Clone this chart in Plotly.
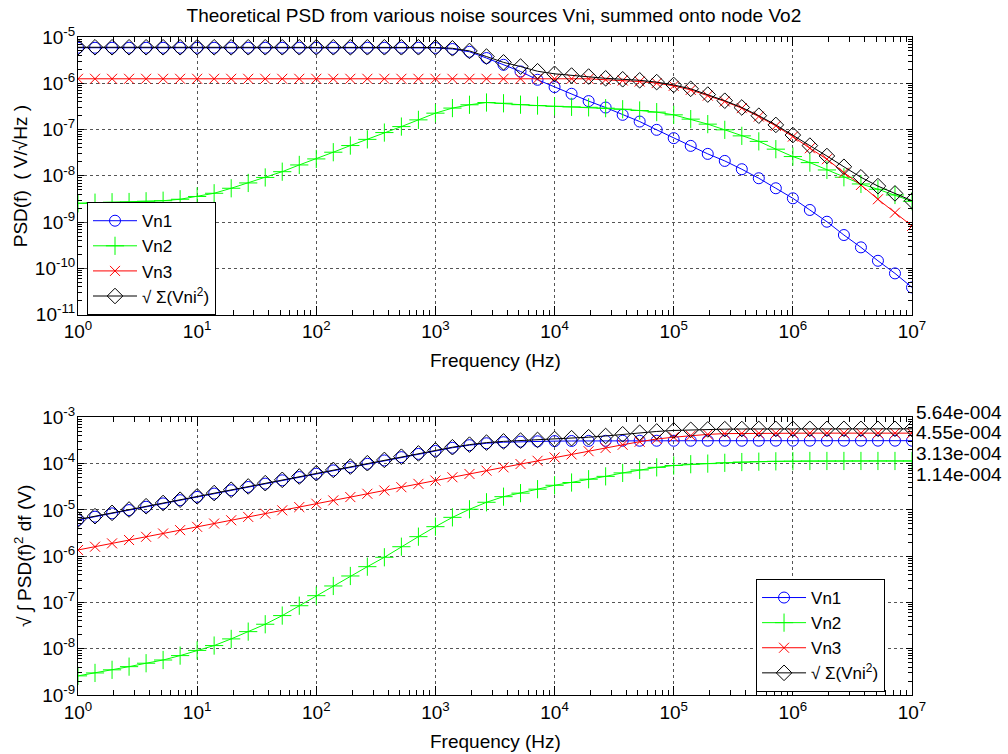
import math
import plotly.graph_objects as go

# Frequency grid (Hz), 7 points per decade from 1 Hz to 10 MHz
freq_hz = [
    1.000, 1.389, 1.931, 2.683, 3.728, 5.179, 7.197,
    10.00, 13.89, 19.31, 26.83, 37.28, 51.79, 71.97,
    100.0, 138.9, 193.1, 268.3, 372.8, 517.9, 719.7,
    1000.0, 1389.0, 1931.0, 2683.0, 3728.0, 5179.0, 7197.0,
    1.000e4, 1.389e4, 1.931e4, 2.683e4, 3.728e4, 5.179e4, 7.197e4,
    1.000e5, 1.389e5, 1.931e5, 2.683e5, 3.728e5, 5.179e5, 7.197e5,
    1.000e6, 1.389e6, 1.931e6, 2.683e6, 3.728e6, 5.179e6, 7.197e6,
    1.000e7,
]

# Noise spectral density at node Vo2 (V/sqrt(Hz))
psd_vn1 = [
    5.86e-6, 5.86e-6, 5.86e-6, 5.86e-6, 5.86e-6, 5.86e-6, 5.86e-6,
    5.86e-6, 5.86e-6, 5.86e-6, 5.86e-6, 5.86e-6, 5.86e-6, 5.86e-6,
    5.86e-6, 5.86e-6, 5.86e-6, 5.86e-6, 5.86e-6, 5.86e-6, 5.86e-6,
    5.80e-6, 5.50e-6, 4.80e-6, 3.51e-6, 2.51e-6, 1.80e-6, 1.19e-6,
    8.28e-7, 5.93e-7, 4.12e-7, 2.99e-7, 2.08e-7, 1.49e-7, 9.86e-8,
    6.52e-8, 4.44e-8, 2.98e-8, 2.10e-8, 1.39e-8, 8.87e-9, 5.39e-9,
    3.27e-9, 1.83e-9, 1.02e-9, 5.26e-10, 2.85e-10, 1.46e-10, 7.80e-11,
    3.88e-11,
]
psd_vn2 = [
    2.55e-9, 2.63e-9, 2.69e-9, 2.72e-9, 2.82e-9, 2.90e-9, 3.12e-9,
    3.58e-9, 4.20e-9, 5.39e-9, 7.02e-9, 9.23e-9, 1.23e-8, 1.72e-8,
    2.32e-8, 3.24e-8, 4.51e-8, 6.14e-8, 8.61e-8, 1.16e-7, 1.62e-7,
    2.26e-7, 2.91e-7, 3.43e-7, 3.84e-7, 3.70e-7, 3.45e-7, 3.30e-7,
    3.18e-7, 3.10e-7, 3.02e-7, 2.90e-7, 2.75e-7, 2.58e-7, 2.38e-7,
    2.08e-7, 1.68e-7, 1.31e-7, 9.86e-8, 7.31e-8, 5.56e-8, 3.77e-8,
    2.61e-8, 1.93e-8, 1.34e-8, 9.33e-9, 6.68e-9, 5.13e-9, 3.86e-9,
    2.82e-9,
]
psd_vn3 = [
    1.25e-6, 1.25e-6, 1.25e-6, 1.25e-6, 1.25e-6, 1.25e-6, 1.25e-6,
    1.25e-6, 1.25e-6, 1.25e-6, 1.25e-6, 1.25e-6, 1.25e-6, 1.25e-6,
    1.25e-6, 1.25e-6, 1.25e-6, 1.25e-6, 1.25e-6, 1.25e-6, 1.25e-6,
    1.25e-6, 1.25e-6, 1.25e-6, 1.25e-6, 1.25e-6, 1.25e-6, 1.25e-6,
    1.25e-6, 1.25e-6, 1.25e-6, 1.19e-6, 1.15e-6, 1.09e-6, 1.01e-6,
    8.80e-7, 7.20e-7, 5.40e-7, 4.05e-7, 2.90e-7, 1.91e-7, 1.20e-7,
    7.05e-8, 3.95e-8, 2.29e-8, 1.17e-8, 6.35e-9, 3.12e-9, 1.60e-9,
    8.24e-10,
]
psd_total = [
    6.00e-6, 6.00e-6, 6.00e-6, 6.00e-6, 6.00e-6, 6.00e-6, 6.00e-6,
    6.00e-6, 6.00e-6, 6.00e-6, 6.00e-6, 6.00e-6, 6.00e-6, 6.00e-6,
    6.00e-6, 6.00e-6, 6.00e-6, 6.00e-6, 6.00e-6, 6.00e-6, 6.00e-6,
    5.95e-6, 5.70e-6, 5.00e-6, 3.78e-6, 2.83e-6, 2.30e-6, 1.82e-6,
    1.60e-6, 1.47e-6, 1.40e-6, 1.28e-6, 1.22e-6, 1.16e-6, 1.06e-6,
    9.20e-7, 7.60e-7, 5.70e-7, 4.20e-7, 3.00e-7, 1.99e-7, 1.26e-7,
    7.60e-8, 4.50e-8, 2.68e-8, 1.57e-8, 9.30e-9, 6.00e-9, 4.18e-9,
    2.90e-9,
]

# Cumulative RMS noise sqrt(integral PSD^2 df) (V)
int_vn1 = [
    6.05e-6, 7.13e-6, 8.41e-6, 9.91e-6, 1.17e-5, 1.38e-5, 1.62e-5,
    1.91e-5, 2.25e-5, 2.66e-5, 3.13e-5, 3.69e-5, 4.35e-5, 5.13e-5,
    6.05e-5, 7.13e-5, 8.41e-5, 9.91e-5, 1.17e-4, 1.38e-4, 1.62e-4,
    1.88e-4, 2.20e-4, 2.50e-4, 2.75e-4, 2.90e-4, 2.98e-4, 3.03e-4,
    3.06e-4, 3.08e-4, 3.10e-4, 3.11e-4, 3.12e-4, 3.12e-4, 3.12e-4,
    3.12e-4, 3.12e-4, 3.12e-4, 3.12e-4, 3.12e-4, 3.12e-4, 3.13e-4,
    3.13e-4, 3.13e-4, 3.13e-4, 3.13e-4, 3.13e-4, 3.13e-4, 3.13e-4,
    3.13e-4,
]
int_vn2 = [
    2.59e-9, 3.00e-9, 3.50e-9, 4.10e-9, 4.86e-9, 5.70e-9, 7.10e-9,
    9.20e-9, 1.17e-8, 1.63e-8, 2.34e-8, 3.38e-8, 5.20e-8, 8.50e-8,
    1.40e-7, 2.27e-7, 3.73e-7, 5.93e-7, 9.46e-7, 1.60e-6, 2.64e-6,
    4.34e-6, 6.90e-6, 1.03e-5, 1.46e-5, 1.93e-5, 2.30e-5, 2.80e-5,
    3.40e-5, 3.90e-5, 4.60e-5, 5.30e-5, 6.30e-5, 7.30e-5, 8.30e-5,
    9.10e-5, 9.70e-5, 1.00e-4, 1.04e-4, 1.08e-4, 1.10e-4, 1.12e-4,
    1.13e-4, 1.14e-4, 1.14e-4, 1.14e-4, 1.14e-4, 1.14e-4, 1.14e-4,
    1.14e-4,
]
int_vn3 = [
    1.36e-6, 1.60e-6, 1.89e-6, 2.23e-6, 2.62e-6, 3.09e-6, 3.65e-6,
    4.30e-6, 5.07e-6, 5.97e-6, 7.04e-6, 8.30e-6, 9.79e-6, 1.15e-5,
    1.36e-5, 1.60e-5, 1.89e-5, 2.23e-5, 2.62e-5, 3.09e-5, 3.65e-5,
    4.30e-5, 5.07e-5, 5.97e-5, 7.04e-5, 8.30e-5, 9.79e-5, 1.15e-4,
    1.36e-4, 1.58e-4, 1.85e-4, 2.18e-4, 2.55e-4, 2.97e-4, 3.40e-4,
    3.72e-4, 4.02e-4, 4.28e-4, 4.45e-4, 4.50e-4, 4.53e-4, 4.54e-4,
    4.55e-4, 4.55e-4, 4.55e-4, 4.55e-4, 4.55e-4, 4.55e-4, 4.55e-4,
    4.55e-4,
]
int_total = [
    6.20e-6, 7.31e-6, 8.62e-6, 1.02e-5, 1.20e-5, 1.41e-5, 1.66e-5,
    1.96e-5, 2.31e-5, 2.72e-5, 3.21e-5, 3.78e-5, 4.46e-5, 5.26e-5,
    6.20e-5, 7.31e-5, 8.62e-5, 1.02e-4, 1.20e-4, 1.41e-4, 1.66e-4,
    1.93e-4, 2.26e-4, 2.57e-4, 2.84e-4, 3.02e-4, 3.14e-4, 3.25e-4,
    3.40e-4, 3.55e-4, 3.72e-4, 3.95e-4, 4.30e-4, 4.65e-4, 4.95e-4,
    5.20e-4, 5.37e-4, 5.48e-4, 5.55e-4, 5.59e-4, 5.61e-4, 5.62e-4,
    5.63e-4, 5.64e-4, 5.64e-4, 5.64e-4, 5.64e-4, 5.64e-4, 5.64e-4,
    5.64e-4,
]

# Decade tick exponents
freq_decades = [0, 1, 2, 3, 4, 5, 6, 7]
psd_decades = [-11, -10, -9, -8, -7, -6, -5]
int_decades = [-9, -8, -7, -6, -5, -4, -3]

series_names = ["Vn1", "Vn2", "Vn3", "\u221a \u03a3(Vni<sup>2</sup>)"]
FONT = "Arial, Liberation Sans, Helvetica, sans-serif"
FS = 19

styles = [
    dict(color="#0000ff", symbol="circle-open", size=11),
    dict(color="#00ff00", symbol="cross-thin-open", size=13),
    dict(color="#ff0000", symbol="x-thin-open", size=10),
    dict(color="#000000", symbol="diamond-open", size=12),
]

fig = go.Figure()

top_series = [psd_vn1, psd_vn2, psd_vn3, psd_total]
bottom_series = [int_vn1, int_vn2, int_vn3, int_total]

for xa, ya, lg, group in (("x", "y", "legend", top_series),
                          ("x2", "y2", "legend2", bottom_series)):
    for name, ys, st in zip(series_names, group, styles):
        fig.add_trace(go.Scatter(
            x=freq_hz, y=ys, name=name, mode="lines+markers",
            line=dict(color=st["color"], width=1),
            marker=dict(symbol=st["symbol"], size=st["size"], color=st["color"],
                        line=dict(color=st["color"], width=1)),
            xaxis=xa, yaxis=ya, legend=lg,
        ))


def log_axis(rng, decades, ticklen, minorlen, domain=None, anchor=None,
             standoff=0):
    ax = dict(
        type="log", range=rng,
        tickmode="array",
        tickvals=[10.0 ** d for d in decades],
        ticktext=[f"10<sup>{d}</sup>" for d in decades],
        ticks="inside", ticklen=ticklen, tickwidth=1,
        tickcolor="black", showline=True, linecolor="black", linewidth=1,
        mirror="allticks", showgrid=True, gridcolor="#555555",
        griddash="dot", gridwidth=1, zeroline=False,
        ticklabelstandoff=standoff,
        tickfont=dict(family=FONT, size=FS, color="black"),
        minor=dict(ticks="inside", ticklen=minorlen, tickcolor="black",
                   dtick="D1", showgrid=False),
    )
    if domain is not None:
        ax["domain"] = domain
    if anchor is not None:
        ax["anchor"] = anchor
    return ax


# Final cumulative values printed at the right edge of the lower plot
final_values = [int_total[-1], int_vn3[-1], int_vn1[-1], int_vn2[-1]]
label_yshift = [16, 1, -13, -14]


def matlab_e(v):
    mant, exp = f"{v:.2e}".split("e")
    sign = "-" if exp.startswith("-") else "+"
    return f"{mant}e{sign}{abs(int(exp)):03d}"


txt = dict(family=FONT, size=FS, color="black")
annotations = []
for v, dy in zip(final_values, label_yshift):
    annotations.append(dict(
        x=7, y=math.log10(v), xref="x2", yref="y2",
        text=matlab_e(v), showarrow=False, xanchor="left", yanchor="middle",
        xshift=2, yshift=dy, font=txt,
    ))

# Axis titles
annotations += [
    dict(x=0.5, y=0.509, xref="paper", yref="paper", text="Frequency (Hz)",
         showarrow=False, xanchor="center", yanchor="middle", font=txt),
    dict(x=0.5, y=-0.0714, xref="paper", yref="paper", text="Frequency (Hz)",
         showarrow=False, xanchor="center", yanchor="middle", font=txt),
    dict(x=-0.069, y=0.789, xref="paper", yref="paper",
         text="PSD(f)  ( V/\u221aHz )", textangle=-90,
         showarrow=False, xanchor="center", yanchor="middle", font=txt),
    dict(x=-0.066, y=0.211, xref="paper", yref="paper",
         text="\u221a \u222b PSD(f)<sup>2</sup> df (V)", textangle=-90,
         showarrow=False, xanchor="center", yanchor="middle", font=txt),
]

legend_style = dict(
    bgcolor="white", bordercolor="black", borderwidth=1,
    font=dict(family=FONT, size=17, color="black"),
    xanchor="left", yanchor="top", itemwidth=44,
    traceorder="normal",
)

fig.update_layout(
    width=1008, height=754,
    margin=dict(l=78, r=96, t=37, b=59),
    paper_bgcolor="white", plot_bgcolor="white",
    font=txt,
    title=dict(
        text="Theoretical PSD from various noise sources Vni, summed onto node Vo2",
        xref="container", x=0.49, xanchor="center", y=0.979, yanchor="middle",
        font=txt,
    ),
    xaxis=log_axis([0, 7], freq_decades, 9, 5, anchor="y"),
    yaxis=log_axis([-11, -5], psd_decades, 6, 4, domain=[0.578, 1.0],
                   anchor="x", standoff=-2),
    xaxis2=log_axis([0, 7], freq_decades, 9, 5, anchor="y2"),
    yaxis2=log_axis([-9, -3], int_decades, 6, 4, domain=[0.0, 0.422],
                    anchor="x2", standoff=-2),
    legend=dict(x=0.0108, y=0.749, **legend_style),
    legend2=dict(x=0.813, y=0.1763, **legend_style),
    annotations=annotations,
    showlegend=True,
)

fig.write_html("out.html")
